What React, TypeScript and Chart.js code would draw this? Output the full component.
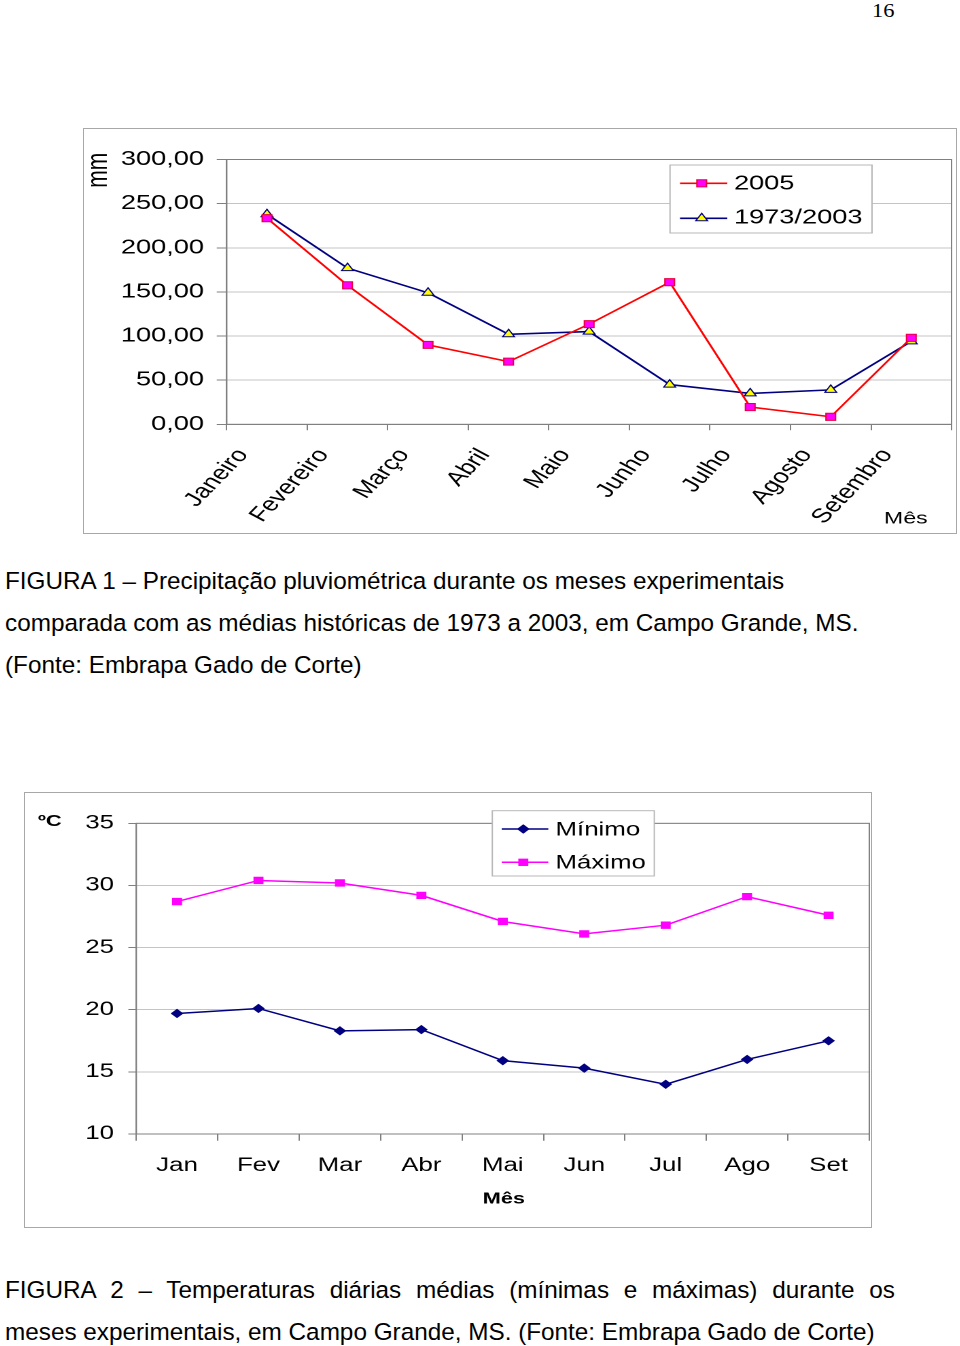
import React, { useEffect, useRef } from 'react';
import { Chart, registerables } from 'chart.js';

Chart.register(...registerables);

// ---------- data ----------
const rainMonths = ['Janeiro', 'Fevereiro', 'Março', 'Abril', 'Maio', 'Junho', 'Julho', 'Agosto', 'Setembro'];
const rainSeriesLabels = ['2005', '1973/2003'];
const rain2005 = [233.5, 157.5, 90, 71, 113.5, 161, 19.5, 8.5, 98];
const rainHistoric = [238, 177, 149, 102, 105, 45, 35, 39, 94];
const rainTickRange = [0, 300, 50];

const tempMonths = ['Jan', 'Fev', 'Mar', 'Abr', 'Mai', 'Jun', 'Jul', 'Ago', 'Set'];
const tempSeriesLabels = ['Mínimo', 'Máximo'];
const tempMin = [19.7, 20.1, 18.3, 18.4, 15.9, 15.3, 14.0, 16.0, 17.5];
const tempMax = [28.7, 30.4, 30.2, 29.2, 27.1, 26.1, 26.8, 29.1, 27.6];
const tempTickRange = [10, 35, 5];

// ---------- styling ----------
const STRETCH = 1.36;
const FONT = "'Liberation Sans', Arial, sans-serif";
const AXIS = '#808080';
const GRID = '#c4c4c4';
const FRAME = '#a8a8a8';

// frames in page coordinates
const F1 = { x: 83, y: 128, w: 874, h: 406 };
const F2 = { x: 24, y: 792, w: 848, h: 436 };

function drawMarker(ctx: CanvasRenderingContext2D, style: string, x: number, y: number, r: number, fill: string, stroke: string, lw: number) {
  ctx.save();
  ctx.beginPath();
  if (style === 'rect') {
    const s = Math.SQRT1_2 * r;
    ctx.rect(x - s, y - s, 2 * s, 2 * s);
  } else if (style === 'triangle') {
    let rad = 0;
    ctx.moveTo(x + Math.sin(rad) * r, y - Math.cos(rad) * r);
    rad += (2 * Math.PI) / 3;
    ctx.lineTo(x + Math.sin(rad) * r, y - Math.cos(rad) * r);
    rad += (2 * Math.PI) / 3;
    ctx.lineTo(x + Math.sin(rad) * r, y - Math.cos(rad) * r);
    ctx.closePath();
  } else {
    ctx.moveTo(x - r, y);
    ctx.lineTo(x, y - r);
    ctx.lineTo(x + r, y);
    ctx.lineTo(x, y + r);
    ctx.closePath();
  }
  ctx.fillStyle = fill;
  ctx.fill();
  if (lw > 0) {
    ctx.lineWidth = lw;
    ctx.strokeStyle = stroke;
    ctx.stroke();
  }
  ctx.restore();
}

function plotBorder() {
  return {
    id: 'plotBorder',
    beforeDatasetsDraw(chart: any) {
      const { ctx, chartArea: a } = chart;
      ctx.save();
      ctx.strokeStyle = AXIS;
      ctx.lineWidth = 1;
      ctx.strokeRect(a.left, a.top, a.right - a.left, a.bottom - a.top);
      ctx.restore();
    },
  };
}

function boxLegend(spec: any) {
  return {
    id: 'boxLegend',
    afterDraw(chart: any) {
      const ctx: CanvasRenderingContext2D = chart.ctx;
      const b = spec.box;
      ctx.save();
      ctx.fillStyle = '#fff';
      ctx.fillRect(b.x1, b.y1, b.x2 - b.x1, b.y2 - b.y1);
      ctx.strokeStyle = '#b8b8b8';
      ctx.lineWidth = 1;
      ctx.strokeRect(b.x1, b.y1, b.x2 - b.x1, b.y2 - b.y1);
      spec.rows.forEach((row: any, i: number) => {
        const ds = chart.data.datasets[i];
        ctx.strokeStyle = ds.borderColor;
        ctx.lineWidth = ds.borderWidth;
        ctx.beginPath();
        ctx.moveTo(spec.lineX1, row.y);
        ctx.lineTo(spec.lineX2, row.y);
        ctx.stroke();
        drawMarker(ctx, ds.pointStyle, spec.markerX, row.y, ds.pointRadius, ds.pointBackgroundColor, ds.pointBorderColor, ds.pointBorderWidth);
        ctx.fillStyle = '#000';
        ctx.font = spec.font;
        ctx.textAlign = 'left';
        ctx.textBaseline = 'alphabetic';
        ctx.fillText(ds.label, spec.textX, row.textY);
      });
      ctx.restore();
    },
  };
}

function extraTexts(items: any[]) {
  return {
    id: 'extraTexts',
    afterDraw(chart: any) {
      const ctx: CanvasRenderingContext2D = chart.ctx;
      items.forEach((t) => {
        ctx.save();
        ctx.translate(t.x, t.y);
        if (t.rotate) ctx.rotate(t.rotate);
        ctx.font = t.font;
        ctx.fillStyle = '#000';
        ctx.textAlign = t.align || 'left';
        ctx.textBaseline = 'alphabetic';
        ctx.fillText(t.text, 0, 0);
        ctx.restore();
      });
    },
  };
}

function rainConfig(iw: number, ih: number): any {
  const k = iw / F1.w;
  const ix = (X: number) => (X - F1.x) * k;
  const iy = (Y: number) => Y - F1.y;
  const plotL = ix(226.7);
  const plotR = ix(952);
  const plotT = iy(159.5);
  const plotB = iy(424.3);
  const yTick = ix(226.7) - ix(216.7);
  const font = { family: FONT, size: 20 };
  return {
    type: 'line',
    data: {
      labels: rainMonths,
      datasets: [
        {
          label: rainSeriesLabels[0], data: rain2005, borderColor: '#ff0000', borderWidth: 1.6,
          pointStyle: 'rect', pointRadius: 5, pointBackgroundColor: '#ff00ff', pointBorderColor: '#e8003a', pointBorderWidth: 1, tension: 0,
        },
        {
          label: rainSeriesLabels[1], data: rainHistoric, borderColor: '#000080', borderWidth: 1.6,
          pointStyle: 'triangle', pointRadius: 5, pointBackgroundColor: '#ffff00', pointBorderColor: '#000080', pointBorderWidth: 1, tension: 0,
        },
      ],
    },
    options: {
      responsive: false, animation: false, devicePixelRatio: 2, events: [],
      layout: { autoPadding: false, padding: { left: 0, top: plotT, right: iw - plotR, bottom: 0 } },
      plugins: { legend: { display: false }, tooltip: { enabled: false } },
      scales: {
        x: {
          offset: true,
          grid: { offset: true, drawOnChartArea: false, drawTicks: true, tickLength: 6, color: AXIS, tickColor: AXIS },
          border: { color: AXIS },
          ticks: { autoSkip: false, minRotation: 54, maxRotation: 54, padding: 14, labelOffset: -17.7, color: '#000', font },
          afterFit: (s: any) => { s.height = ih - plotB; },
        },
        y: {
          min: rainTickRange[0], max: rainTickRange[1],
          grid: { color: GRID, tickColor: AXIS, tickLength: yTick },
          border: { color: AXIS },
          ticks: {
            stepSize: rainTickRange[2], padding: plotL - yTick - ix(204), color: '#000', font,
            callback: (v: any) => Number(v).toFixed(2).replace('.', ','),
          },
          afterFit: (s: any) => { s.width = plotL; },
        },
      },
    },
    plugins: [
      plotBorder(),
      boxLegend({
        box: { x1: ix(670), y1: iy(165), x2: ix(872), y2: iy(233) },
        rows: [{ y: iy(183.3), textY: iy(189.3) }, { y: iy(218.3), textY: iy(223.3) }],
        lineX1: ix(680), lineX2: ix(727.3), markerX: ix(701.7), textX: ix(734),
        font: `20px ${FONT}`,
      }),
      extraTexts([
        { text: 'mm', x: ix(106.7), y: iy(170.3), rotate: -Math.PI / 2, align: 'center', font: `21px ${FONT}` },
        { text: 'Mês', x: ix(884), y: iy(523.3), font: `17px ${FONT}` },
      ]),
    ],
  };
}

function tempConfig(iw: number, ih: number): any {
  const k = iw / F2.w;
  const ix = (X: number) => (X - F2.x) * k;
  const iy = (Y: number) => Y - F2.y;
  const plotL = ix(136.3);
  const plotR = ix(869.3);
  const plotT = iy(823.3);
  const plotB = iy(1134);
  const yTick = ix(136.3) - ix(128.3);
  const font = { family: FONT, size: 19 };
  return {
    type: 'line',
    data: {
      labels: tempMonths,
      datasets: [
        {
          label: tempSeriesLabels[0], data: tempMin, borderColor: '#000080', borderWidth: 1.5,
          pointStyle: 'rectRot', pointRadius: 4.7, pointBackgroundColor: '#000080', pointBorderColor: '#000080', pointBorderWidth: 0, tension: 0,
        },
        {
          label: tempSeriesLabels[1], data: tempMax, borderColor: '#ff00ff', borderWidth: 1.5,
          pointStyle: 'rect', pointRadius: 5.2, pointBackgroundColor: '#ff00ff', pointBorderColor: '#ff00ff', pointBorderWidth: 0, tension: 0,
        },
      ],
    },
    options: {
      responsive: false, animation: false, devicePixelRatio: 2, events: [],
      layout: { autoPadding: false, padding: { left: 0, top: plotT, right: iw - plotR, bottom: 0 } },
      plugins: { legend: { display: false }, tooltip: { enabled: false } },
      scales: {
        x: {
          offset: true,
          grid: { offset: true, drawOnChartArea: false, drawTicks: true, tickLength: 6.7, color: AXIS, tickColor: AXIS },
          border: { color: AXIS },
          ticks: { autoSkip: false, maxRotation: 0, minRotation: 0, padding: 13.9, color: '#000', font },
          afterFit: (s: any) => { s.height = ih - plotB; },
        },
        y: {
          min: tempTickRange[0], max: tempTickRange[1],
          grid: { color: GRID, tickColor: AXIS, tickLength: yTick },
          border: { color: AXIS },
          ticks: { stepSize: tempTickRange[2], padding: plotL - yTick - ix(114), color: '#000', font },
          afterFit: (s: any) => { s.width = plotL; },
        },
      },
    },
    plugins: [
      plotBorder(),
      boxLegend({
        box: { x1: ix(492.3), y1: iy(810.7), x2: ix(654.3), y2: iy(876) },
        rows: [{ y: iy(829), textY: iy(835.7) }, { y: iy(862.3), textY: iy(868.3) }],
        lineX1: ix(501.7), lineX2: ix(548.3), markerX: ix(523.3), textX: ix(555.5),
        font: `19px ${FONT}`,
      }),
      extraTexts([
        { text: 'ºC', x: ix(38), y: iy(826), font: `bold 16px ${FONT}` },
        { text: 'Mês', x: ix(503.8), y: iy(1203.3), align: 'center', font: `bold 16px ${FONT}` },
      ]),
    ],
  };
}

function StretchedChart({ frame, build }: { frame: { x: number; y: number; w: number; h: number }; build: (iw: number, ih: number) => any }) {
  const ref = useRef<HTMLCanvasElement>(null);
  const iw = Math.round(frame.w / STRETCH);
  const scale = frame.w / iw;
  useEffect(() => {
    if (!ref.current) return;
    const chart = new Chart(ref.current, build(iw, frame.h));
    return () => chart.destroy();
  }, []);
  return (
    <div style={{ position: 'absolute', left: frame.x, top: frame.y, width: frame.w, height: frame.h, overflow: 'hidden', background: '#fff' }}>
      <div style={{ position: 'absolute', left: 0, top: 0, width: iw, height: frame.h, transform: `scaleX(${scale})`, transformOrigin: '0 0' }}>
        <canvas ref={ref} width={iw} height={frame.h} style={{ display: 'block', width: iw, height: frame.h }} />
      </div>
      <div style={{ position: 'absolute', left: 0, top: 0, width: frame.w, height: frame.h, border: `1px solid ${FRAME}`, boxSizing: 'border-box', pointerEvents: 'none' }} />
    </div>
  );
}

const captionStyle: React.CSSProperties = {
  position: 'absolute', left: 5, fontFamily: FONT, fontSize: 24.3, lineHeight: '42px', color: '#000', whiteSpace: 'nowrap',
};

export default function App() {
  return (
    <div style={{ position: 'absolute', left: 0, top: 0, width: 960, height: 1346, background: '#fff', overflow: 'hidden' }}>
      <div style={{ position: 'absolute', left: 872, top: 2, fontFamily: "'Liberation Serif', 'Times New Roman', serif", fontSize: 18, lineHeight: '18px', transform: 'scaleX(1.25)', transformOrigin: '0 0' }}>16</div>

      <StretchedChart frame={F1} build={rainConfig} />

      <div style={{ ...captionStyle, top: 560.4 }}>
        <div>FIGURA 1 – Precipitação pluviométrica durante os meses experimentais</div>
        <div>comparada com as médias históricas de 1973 a 2003, em Campo Grande, MS.</div>
        <div>(Fonte: Embrapa Gado de Corte)</div>
      </div>

      <StretchedChart frame={F2} build={tempConfig} />

      <div style={{ ...captionStyle, top: 1268.7 }}>
        <div style={{ width: 890, whiteSpace: 'normal', textAlign: 'justify', textAlignLast: 'justify' } as React.CSSProperties}>
          FIGURA 2 – Temperaturas diárias médias (mínimas e máximas) durante os
        </div>
        <div>meses experimentais, em Campo Grande, MS. (Fonte: Embrapa Gado de Corte)</div>
      </div>
    </div>
  );
}
